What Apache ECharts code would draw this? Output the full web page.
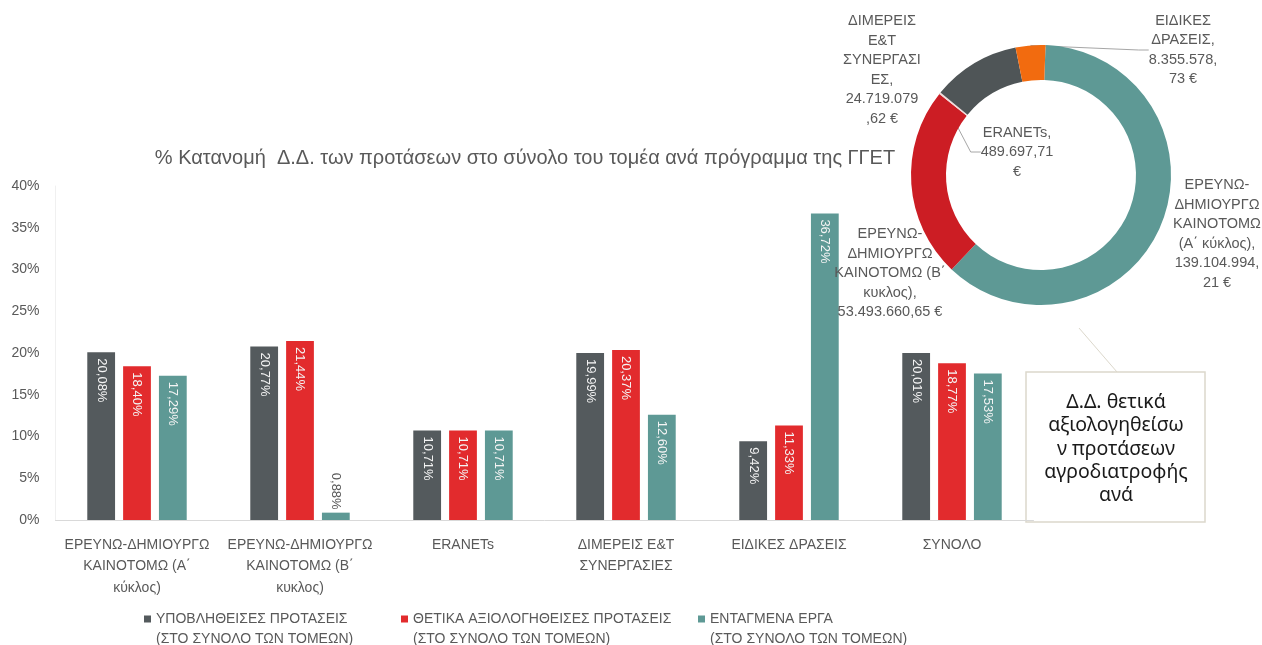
<!DOCTYPE html>
<html>
<head>
<meta charset="utf-8">
<script src="https://cdn.jsdelivr.net/npm/echarts@6/dist/echarts.min.js"></script>
<style>
  html, body { margin: 0; padding: 0; background: #fff; }
  #main { width: 1262px; height: 645px; }
</style>
</head>
<body>
<div id="main"></div>
<script>
// κατηγορίες του ραβδογράμματος
var categories = [
  'ΕΡΕΥΝΩ-ΔΗΜΙΟΥΡΓΩ\nΚΑΙΝΟΤΟΜΩ (Α΄\nκύκλος)',
  'ΕΡΕΥΝΩ-ΔΗΜΙΟΥΡΓΩ\nΚΑΙΝΟΤΟΜΩ (Β΄\nκυκλος)',
  'ERANETs',
  'ΔΙΜΕΡΕΙΣ Ε&Τ\nΣΥΝΕΡΓΑΣΙΕΣ',
  'ΕΙΔΙΚΕΣ ΔΡΑΣΕΙΣ',
  'ΣΥΝΟΛΟ'
];
var seriesNames = [
  'ΥΠΟΒΛΗΘΕΙΣΕΣ ΠΡΟΤΑΣΕΙΣ\n(ΣΤΟ ΣΥΝΟΛΟ ΤΩΝ ΤΟΜΕΩΝ)',
  'ΘΕΤΙΚΑ ΑΞΙΟΛΟΓΗΘΕΙΣΕΣ ΠΡΟΤΑΣΕΙΣ\n(ΣΤΟ ΣΥΝΟΛΟ ΤΩΝ ΤΟΜΕΩΝ)',
  'ΕΝΤΑΓΜΕΝΑ ΕΡΓΑ\n(ΣΤΟ ΣΥΝΟΛΟ ΤΩΝ ΤΟΜΕΩΝ)'
];
var submitted = [20.08, 20.77, 10.71, 19.99, 9.42, 20.01];
var positive = [18.40, 21.44, 10.71, 20.37, 11.33, 18.77];
var funded = [17.29, 0.88, 10.71, 12.60, 36.72, 17.53];
var yTicks = [0, 5, 10, 15, 20, 25, 30, 35, 40];

// δακτύλιος: Δ.Δ. θετικά αξιολογηθεισών προτάσεων
var ringNames = [
  'ΕΡΕΥΝΩ-\nΔΗΜΙΟΥΡΓΩ\nΚΑΙΝΟΤΟΜΩ\n(Α΄ κύκλος),',
  'ΕΡΕΥΝΩ-\nΔΗΜΙΟΥΡΓΩ\nΚΑΙΝΟΤΟΜΩ (Β΄\nκυκλος),',
  'ERANETs,',
  'ΔΙΜΕΡΕΙΣ\nΕ&Τ\nΣΥΝΕΡΓΑΣΙ\nΕΣ,',
  'ΕΙΔΙΚΕΣ\nΔΡΑΣΕΙΣ,'
];
var ringValues = [139104994.21, 53493660.65, 489697.71, 24719079.62, 8355578.73];
var ringValueText = [
  '139.104.994,\n21 €',
  '53.493.660,65 €',
  '489.697,71\n€',
  '24.719.079\n,62 €',
  '8.355.578,\n73 €'
];

var font = "'Liberation Sans', Arial, sans-serif";
var barColors = ['#545a5d', '#e22b2d', '#5e9995'];
var ringColors = ['#5e9995', '#cc1d24', '#f2dcdb', '#4f5557', '#f26b0f'];
// θέσεις των ετικετών του δακτυλίου (κέντρο κειμένου)
var ringLabelPos = [[1217, 234], [890, 273], [1017, 152], [882, 70], [1183, 50]];
var legendLeft = [139, 396, 693];

function pct(v) {
  return v.toFixed(2).replace('.', ',') + '%';
}

function barSeries(i, values) {
  return {
    name: seriesNames[i],
    type: 'bar',
    barGap: '29%',
    barCategoryGap: '39%',
    itemStyle: { color: barColors[i] },
    data: values.map(function (v) {
      var item = { value: v };
      if (v < 3) {
        item.label = { position: 'top', align: 'right', color: '#595959', distance: 3 };
      }
      return item;
    }),
    label: {
      show: true,
      position: 'insideTop',
      rotate: -90,
      align: 'left',
      verticalAlign: 'middle',
      distance: 6,
      color: '#f4f4f4',
      fontSize: 13,
      fontFamily: font,
      formatter: function (p) { return pct(p.value); }
    }
  };
}

// ένα υπόμνημα για κάθε σειρά, όπως στο πρωτότυπο
var legends = seriesNames.map(function (name, i) {
  return {
    data: [name],
    left: legendLeft[i],
    top: 584,
    itemWidth: 7,
    itemHeight: 7,
    itemGap: 5,
    icon: 'rect',
    // κενή πρώτη γραμμή ώστε το τετράγωνο να στέκεται στην πρώτη γραμμή
    formatter: function (n) { return '\n' + n; },
    textStyle: { fontFamily: font, fontSize: 14, color: '#595959', lineHeight: 20 }
  };
});

var chart = echarts.init(document.getElementById('main'));
chart.setOption({
  backgroundColor: '#fff',
  animation: false,
  title: {
    text: '% Κατανομή  Δ.Δ. των προτάσεων στο σύνολο του τομέα ανά πρόγραμμα της ΓΓΕΤ',
    left: 520,
    textAlign: 'center',
    top: 143,
    textStyle: { fontFamily: font, fontSize: 20, fontWeight: 'normal', color: '#595959' }
  },
  legend: legends,
  grid: { left: 55.5, right: 228.5, top: 186, bottom: 125, containLabel: false },
  xAxis: {
    type: 'category',
    data: categories,
    axisTick: { show: false },
    axisLine: { lineStyle: { color: '#d9d9d9' } },
    axisLabel: {
      interval: 0, margin: 14, lineHeight: 21.5,
      fontFamily: font, fontSize: 14, color: '#595959'
    }
  },
  yAxis: {
    type: 'value',
    min: yTicks[0],
    max: yTicks[yTicks.length - 1],
    interval: yTicks[1] - yTicks[0],
    splitLine: { show: false },
    axisLine: { show: true, lineStyle: { color: '#f0f0f0' } },
    axisLabel: { formatter: '{value}%', fontFamily: font, fontSize: 14, color: '#595959', margin: 16 }
  },
  series: [
    barSeries(0, submitted),
    barSeries(1, positive),
    barSeries(2, funded),
    {
      type: 'pie',
      center: [1041, 175],
      radius: [95, 130],
      startAngle: 88,
      clockwise: true,
      avoidLabelOverlap: false,
      data: ringValues.map(function (v, i) {
        return {
          value: v,
          name: ringNames[i],
          itemStyle: { color: ringColors[i] },
          labelLine: { show: i === 2 || i === 4 }
        };
      }),
      label: {
        show: true,
        position: 'outside',
        fontFamily: font,
        fontSize: 14.5,
        lineHeight: 19.5,
        color: '#595959',
        align: 'center',
        formatter: function (p) { return p.name + '\n' + ringValueText[p.dataIndex]; }
      },
      labelLine: { show: false, length: 10, length2: 10, lineStyle: { color: '#a6a6a6', width: 1 } },
      labelLayout: function (p) {
        var pos = ringLabelPos[p.dataIndex];
        return { x: pos[0], y: pos[1], align: 'center', verticalAlign: 'middle' };
      }
    }
  ],
  graphic: [
    {
      type: 'line',
      shape: { x1: 1079, y1: 328, x2: 1117, y2: 372 },
      style: { stroke: '#dcd8cc', lineWidth: 1 }
    },
    {
      type: 'rect',
      shape: { x: 1026, y: 372, width: 179, height: 150 },
      style: { fill: '#fff', stroke: '#dcd8cc', lineWidth: 1.5 }
    },
    {
      type: 'text',
      x: 1116,
      y: 449,
      style: {
        text: 'Δ.Δ. θετικά\nαξιολογηθείσω\nν προτάσεων\nαγροδιατροφής\nανά',
        fontFamily: "'Noto Sans', sans-serif",
        fontSize: 19.5,
        lineHeight: 23.3,
        fill: '#1a1a1a',
        align: 'center',
        verticalAlign: 'middle'
      }
    }
  ]
});
</script>
</body>
</html>
